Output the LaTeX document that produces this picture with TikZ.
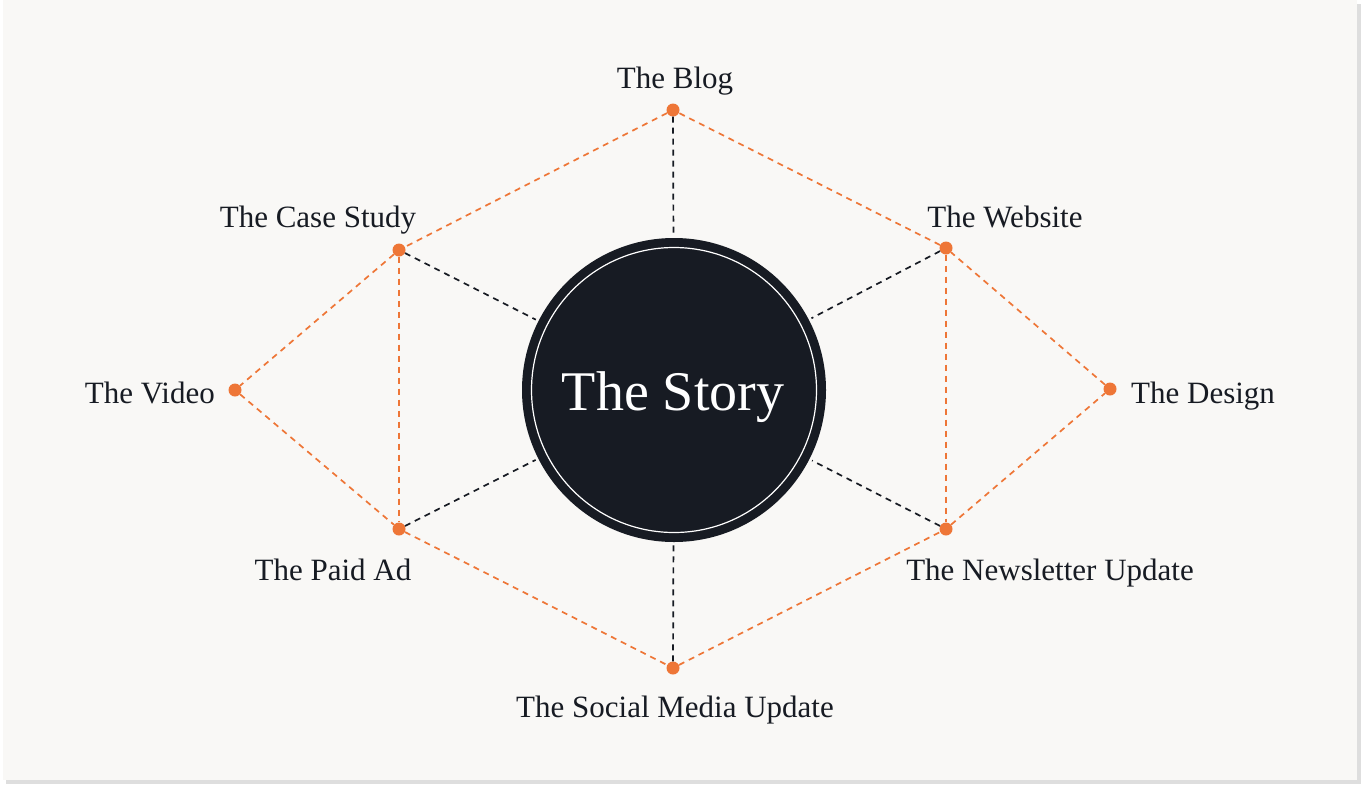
\documentclass[tikz,border=0pt]{standalone}
\usepackage{fontspec}
\setmainfont{Liberation Serif}
\definecolor{storyink}{HTML}{171B23}
\definecolor{accent}{HTML}{EE7637}
\definecolor{paper}{HTML}{F9F8F6}
\tikzset{
  spot/.style={circle, fill=accent, inner sep=0pt, minimum size=13pt},
  topic/.style={text=storyink, font=\fontsize{31}{36}\selectfont, inner sep=0pt},
  rim/.style={draw=accent, dash pattern=on 6pt off 5pt, line width=1.7pt},
  spoke/.style={draw=storyink, dash pattern=on 6pt off 5pt, line width=1.7pt},
}

\begin{document}
\begin{tikzpicture}[x=1pt,y=-1pt]
      \useasboundingbox (0,0) rectangle (1362,785);
      \fill[black!13] (6,4) rectangle (1361,784);
      \fill[paper] (3,0) rectangle (1357,780);
      % the story in the middle
      \node[name=story, circle, minimum size=304pt, inner sep=0pt, outer sep=3pt] at (674,390){};
      % points round it
      \node[name=blog, spot] at (673,110){};
      \node[name=case, spot] at (399,250){};
      \node[name=web, spot] at (946,248){};
      \node[name=video, spot] at (235,390){};
      \node[name=design, spot] at (1110,389){};
      \node[name=paid, spot] at (399,529){};
      \node[name=news, spot] at (946,529){};
      \node[name=social, spot] at (673,668){};
      \draw[rim] (blog) -- (case) -- (video) -- (paid) -- (social) -- (news) -- (design) -- (web) -- (blog);
      \draw[rim] (case) -- (paid);
      \draw[rim] (web) -- (news);
      \draw[spoke] (blog) -- (story);
      \draw[spoke] (case) -- (story);
      \draw[spoke] (web) -- (story);
      \draw[spoke] (paid) -- (story);
      \draw[spoke] (news) -- (story);
      \draw[spoke] (social) -- (story);
      \fill[storyink] (story.center) circle[radius=152pt];
      \draw[white, line width=1.2pt] (story.center) circle[radius=142.5pt];
      \node[name=storytitle, anchor=base, text=white, inner sep=0pt, font=\fontsize{56}{60}\selectfont] at (673,410){The Story};
      % labels
      \node[name=lblog, topic, anchor=base] at (675,88){The Blog};
      \node[name=lcase, topic, anchor=base] at (318,227){The Case Study};
      \node[name=lweb, topic, anchor=base] at (1005,227){The Website};
      \node[name=lvideo, topic, anchor=base east] at (215,403){The Video};
      \node[name=ldesign, topic, anchor=base west] at (1131,403){The Design};
      \node[name=lpaid, topic, anchor=base] at (333,580){The Paid Ad};
      \node[name=lnews, topic, anchor=base] at (1050,580){The Newsletter Update};
      \node[name=lsocial, topic, anchor=base] at (675,717){The Social Media Update};
    \end{tikzpicture}
\end{document}
